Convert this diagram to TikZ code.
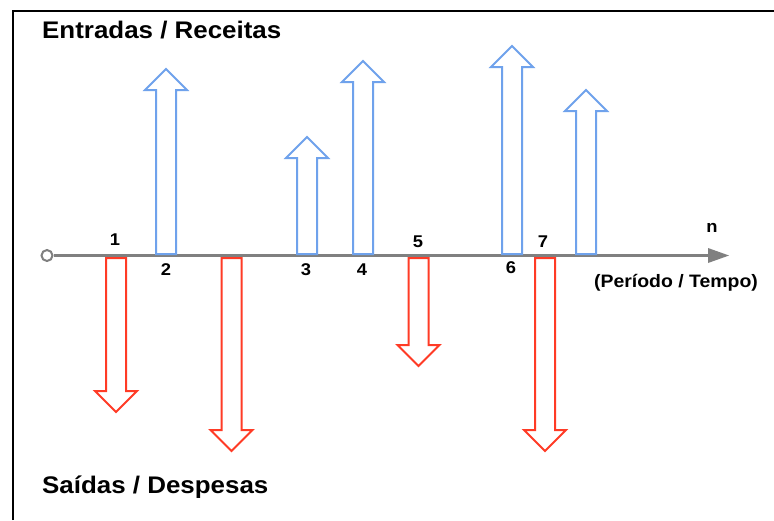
\documentclass[tikz,border=0pt]{standalone}
\usepackage{fontspec}
\setmainfont{Liberation Sans}
\definecolor{inblue}{HTML}{6FA2EC}
\definecolor{outred}{HTML}{FF3B26}
\definecolor{axisgray}{HTML}{808080}
\newcommand\wideText[1]{\scalebox{1.08}[1]{#1}}
\tikzset{
  frameline/.style={black, line width=2.6pt},
  inarrow/.style={draw=inblue, line width=2pt, fill=white, line join=miter},
  outarrow/.style={draw=outred, line width=2pt, fill=white, line join=miter},
  axisline/.style={axisgray, line width=3pt},
  num/.style={font=\fontsize{17}{17}\selectfont\bfseries, inner sep=0pt},
  period/.style={font=\fontsize{18}{18}\selectfont\bfseries, inner sep=0pt},
  title/.style={font=\fontsize{24}{24}\selectfont\bfseries, inner sep=0pt, anchor=west},
}
\newcommand\inArrow[2]{% center x, tip y
  \path[inarrow] (#1-10,254) -- (#1-10,#2+21) -- (#1-21,#2+21) -- (#1,#2) -- (#1+21,#2+21) -- (#1+10,#2+21) -- (#1+10,254) -- cycle;}
\newcommand\outArrow[2]{% center x, tip y
  \path[outarrow] (#1-10,258) -- (#1-10,#2-21) -- (#1-21,#2-21) -- (#1,#2) -- (#1+21,#2-21) -- (#1+10,#2-21) -- (#1+10,258) -- cycle;}
\begin{document}
\begin{tikzpicture}[x=1pt,y=-1pt]
\useasboundingbox (0,0) rectangle (774,520);
\fill[white] (0,0) rectangle (774,520);
% frame (top and left)
\draw[frameline] (13,520) -- (13,11) -- (774,11);
% time axis
\coordinate (axend) at (708,255.5);
\node[circle, draw=axisgray, line width=2pt, fill=white, minimum size=11pt, inner sep=0pt] (orig) at (47,255.5) {};
\draw[axisline] (orig.east) -- (axend);
\fill[axisgray] (708,248) -- (729,255.5) -- (708,263) -- cycle;
% outflows
\outArrow{116}{412}
\outArrow{231.5}{451}
\outArrow{418.5}{366}
\outArrow{545}{451}
% inflows
\inArrow{166}{69}
\inArrow{307}{137}
\inArrow{363}{61}
\inArrow{512}{46}
\inArrow{586}{90}
% labels
\node[num] (l1) at (115,240) {\wideText{1}};
\node[num] (l2) at (166,270) {\wideText{2}};
\node[num] (l3) at (306,270) {\wideText{3}};
\node[num] (l4) at (362,270) {\wideText{4}};
\node[num] (l5) at (418,242) {\wideText{5}};
\node[num] (l6) at (511,268) {\wideText{6}};
\node[num] (l7) at (543,242) {\wideText{7}};
\node[num] (ln) at (712,228) {\wideText{n}};
\node[period] (per) at (676,283) {\wideText{(Período / Tempo)}};
\node[title] (tin) at (42,30) {\wideText{Entradas / Receitas}};
\node[title] (tout) at (42,487) {\wideText{Saídas / Despesas}};
\end{tikzpicture}
\end{document}
